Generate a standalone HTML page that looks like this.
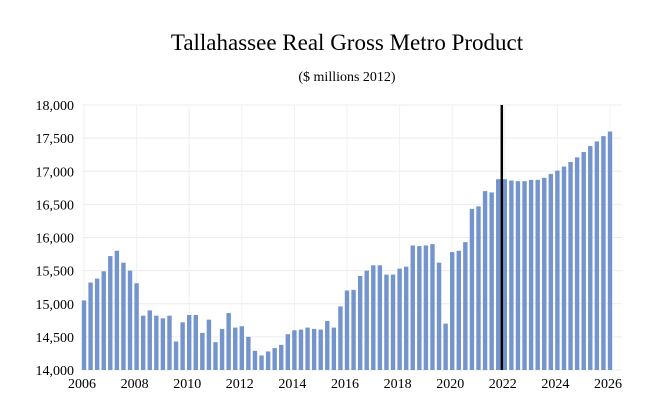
<!DOCTYPE html>
<html><head><meta charset="utf-8"><style>
body{margin:0;background:#fff;}
svg{display:block;font-family:"Liberation Serif",serif;}
</style></head><body>
<svg id="chart" width="658" height="420">
<text x="347" y="50" text-anchor="middle" font-size="23">Tallahassee Real Gross Metro Product</text>
<text x="347" y="81" text-anchor="middle" font-size="14">($ millions 2012)</text>
<g id="grid"></g><g id="bars"></g><g id="axes"></g>
</svg>
<script>
const values=[15050,15320,15380,15490,15720,15800,15620,15500,15310,14820,14900,14820,14780,14820,14430,14720,14830,14830,14560,14760,14420,14620,14860,14640,14660,14500,14290,14220,14280,14330,14380,14540,14600,14610,14640,14620,14610,14740,14640,14960,15200,15210,15420,15500,15580,15580,15440,15440,15530,15560,15880,15870,15880,15900,15620,14700,15780,15800,15930,16430,16470,16700,16680,16880,16880,16860,16850,16850,16870,16870,16900,16960,17010,17070,17140,17210,17290,17380,17450,17530,17600];
const yTicks=[14000,14500,15000,15500,16000,16500,17000,17500,18000];
const xTicks=[2006,2008,2010,2012,2014,2016,2018,2020,2022,2024,2026];
const startYear=2006, markerYear=2022;
const NS="http://www.w3.org/2000/svg";
const y0=370,y1=105,vmin=14000,vmax=18000;
const yS=v=>y0-(v-vmin)/(vmax-vmin)*(y0-y1);
const x0=84,step=6.575;
const xS=t=>x0+(t-startYear)*4*step;
const g=document.getElementById('grid'),b=document.getElementById('bars'),a=document.getElementById('axes');
function mk(tag,at,parent){const e=document.createElementNS(NS,tag);for(const k in at)e.setAttribute(k,at[k]);parent.appendChild(e);return e;}
yTicks.forEach(v=>{
 const l=mk('line',{x1:82,x2:622,y1:yS(v),y2:yS(v),stroke:'#ececec','stroke-width':1},g);
 
 
 const t=mk('text',{x:74,y:yS(v)+5,'text-anchor':'end','font-size':14},a);
 t.textContent=v.toLocaleString('en-US');
 
 
});
xTicks.forEach(yr=>{
 const l=mk('line',{x1:xS(yr),x2:xS(yr),y1:y1,y2:y0,stroke:'#f0f0f0','stroke-width':1},g);
 
 
 const t=mk('text',{x:xS(yr)-2,y:388,'text-anchor':'middle','font-size':14},a);
 t.textContent=yr;
 
 
});
values.forEach((v,i)=>{
 const x=xS(startYear+i/4);
 const r=mk('rect',{x:x-2.2,y:yS(v),width:4.4,height:y0-yS(v),fill:'#7394cc'},b);
 
 
});
const m=mk('line',{x1:xS(markerYear)-3,x2:xS(markerYear)-3,y1:y1,y2:y0,stroke:'#000','stroke-width':2.5},a);


</script>
</body></html>
